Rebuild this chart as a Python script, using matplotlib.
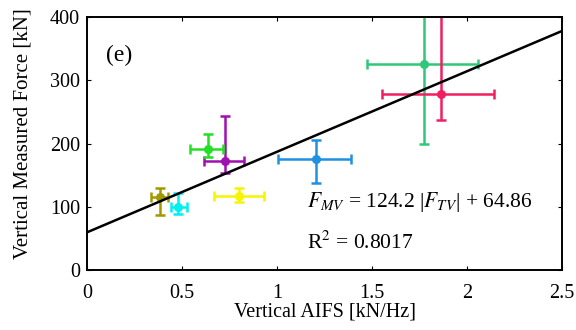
import numpy as np
import matplotlib
matplotlib.use("Agg")
import matplotlib.pyplot as plt

plt.rcParams["font.family"] = ["Liberation Serif", "DejaVu Serif"]
plt.rcParams["mathtext.fontset"] = "stix"

# data
aifs = [0.383, 0.479, 0.798, 0.725, 0.638, 1.207, 1.775, 1.862]
force = [115, 100, 117, 172, 192, 175, 326, 278]
x_lo = [0.045, 0.035, 0.13, 0.108, 0.094, 0.20, 0.30, 0.31]
x_hi = [0.045, 0.045, 0.135, 0.10, 0.078, 0.18, 0.28, 0.28]
y_lo = [28, 12, 10, 18, 13, 37, 126, 40]
y_hi = [15, 22, 13, 71, 23, 30, 126, 150]
colors = ["#a09a00", "#00f0f0", "#f5f500", "#a010b0", "#22e022",
          "#2090e0", "#30c878", "#f02060"]

fit_slope = 127.5
fit_intercept = 59.5

fig = plt.figure(figsize=(5.76, 3.3), dpi=100)
ax = fig.add_axes([0.151, 0.182, 0.825, 0.766])

xs = np.array([0, 2.5])
ax.plot(xs, fit_slope * xs + fit_intercept, color="black", lw=1.8, zorder=3)

for i in range(len(aifs)):
    ax.errorbar(aifs[i], force[i], xerr=[[x_lo[i]], [x_hi[i]]],
                yerr=[[y_lo[i]], [y_hi[i]]], fmt="o", color=colors[i],
                ms=5.5, elinewidth=1.8, capsize=3.5, capthick=1.8, zorder=2)

ax.set_xlim(0, 2.5)
ax.set_ylim(0, 400)
ax.set_xticks([0, 0.5, 1, 1.5, 2, 2.5])
ax.set_xticklabels(["0", "0.5", "1", "1.5", "2", "2.5"])
ax.set_yticks([0, 100, 200, 300, 400])
ax.tick_params(direction="in", top=True, right=True, labelsize=14.5, length=3)
ax.tick_params(axis="x", pad=10)
ax.tick_params(axis="y", pad=5)
for s in ax.spines.values():
    s.set_linewidth(1.4)

ax.set_xlabel("Vertical AIFS [kN/Hz]", fontsize=14.5, labelpad=0)
ax.set_ylabel("Vertical Measured Force [kN]", fontsize=15)
ax.yaxis.set_label_coords(-0.114, 0.54)

ax.text(0.1, 340, "(e)", fontsize=17, va="center")
ax.text(1.16, 108, r"$F_{MV}$ = 124.2 |$F_{TV}$| + 64.86", fontsize=15.5,
        va="center")
ax.text(1.16, 43, r"R$^2$ = 0.8017", fontsize=15.5, va="center")

fig.savefig("out.png", dpi=100)
